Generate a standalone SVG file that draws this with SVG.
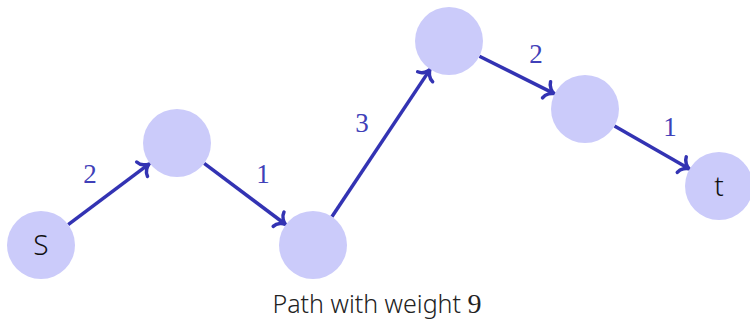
<svg xmlns="http://www.w3.org/2000/svg" width="750" height="321" viewBox="0 0 750 321">
<style>
.node{fill:#cbcbfa;}
.edge{stroke:#3333b3;stroke-width:3.5;fill:none;marker-end:url(#arr);}
.lbl{font-family:"Liberation Serif",serif;font-size:27px;fill:#4040b8;text-anchor:middle;}
.nt{font-family:"Noto Sans",sans-serif;font-weight:300;font-size:28px;fill:#111;text-anchor:middle;}
.cap{font-family:"Noto Sans",sans-serif;font-weight:300;font-size:25px;fill:#222;text-anchor:middle;}
</style>
<defs>
<marker id="arr" markerUnits="userSpaceOnUse" viewBox="-10 -10 14 20" refX="0" refY="0" markerWidth="14" markerHeight="20" orient="auto" overflow="visible">
<path d="M -8,-9 C -7,-3.5 -2,-0.7 0.5,0 C -2,0.7 -7,3.5 -8,9" fill="none" stroke="#3333b3" stroke-width="3.5" stroke-linecap="round"/>
</marker>
</defs>
<rect width="750" height="321" fill="#fff"/>
<g id="connectors">
<line class="edge" x1="68.2" y1="224.6" x2="148.5" y2="164.4"/>
<line class="edge" x1="204.2" y1="163.4" x2="285" y2="224"/>
<line class="edge" x1="331.9" y1="216.7" x2="429.6" y2="70.1"/>
<line class="edge" x1="479.4" y1="56.2" x2="553.7" y2="93.4"/>
<line class="edge" x1="614.5" y1="125.9" x2="688.7" y2="168.6"/>
<text class="lbl" x="90" y="183">2</text>
<text class="lbl" x="263" y="183">1</text>
<text class="lbl" x="362" y="132">3</text>
<text class="lbl" x="536" y="63">2</text>
<text class="lbl" x="670" y="136">1</text>
</g>
<g id="n1"><circle class="node" cx="41" cy="245" r="34"/><text class="nt" x="41" y="255">S</text></g>
<g id="n2"><circle class="node" cx="177" cy="143" r="34"/></g>
<g id="n3"><circle class="node" cx="313" cy="245" r="34"/></g>
<g id="n4"><circle class="node" cx="449" cy="41" r="34"/></g>
<g id="n5"><circle class="node" cx="585" cy="109" r="34"/></g>
<g id="n6"><circle class="node" cx="719" cy="186" r="34"/><text class="nt" x="719" y="196">t</text></g>
<text class="cap" x="377" y="313">Path with weight <tspan font-family="Liberation Serif, serif" font-weight="400" font-size="28">9</tspan></text>
</svg>
